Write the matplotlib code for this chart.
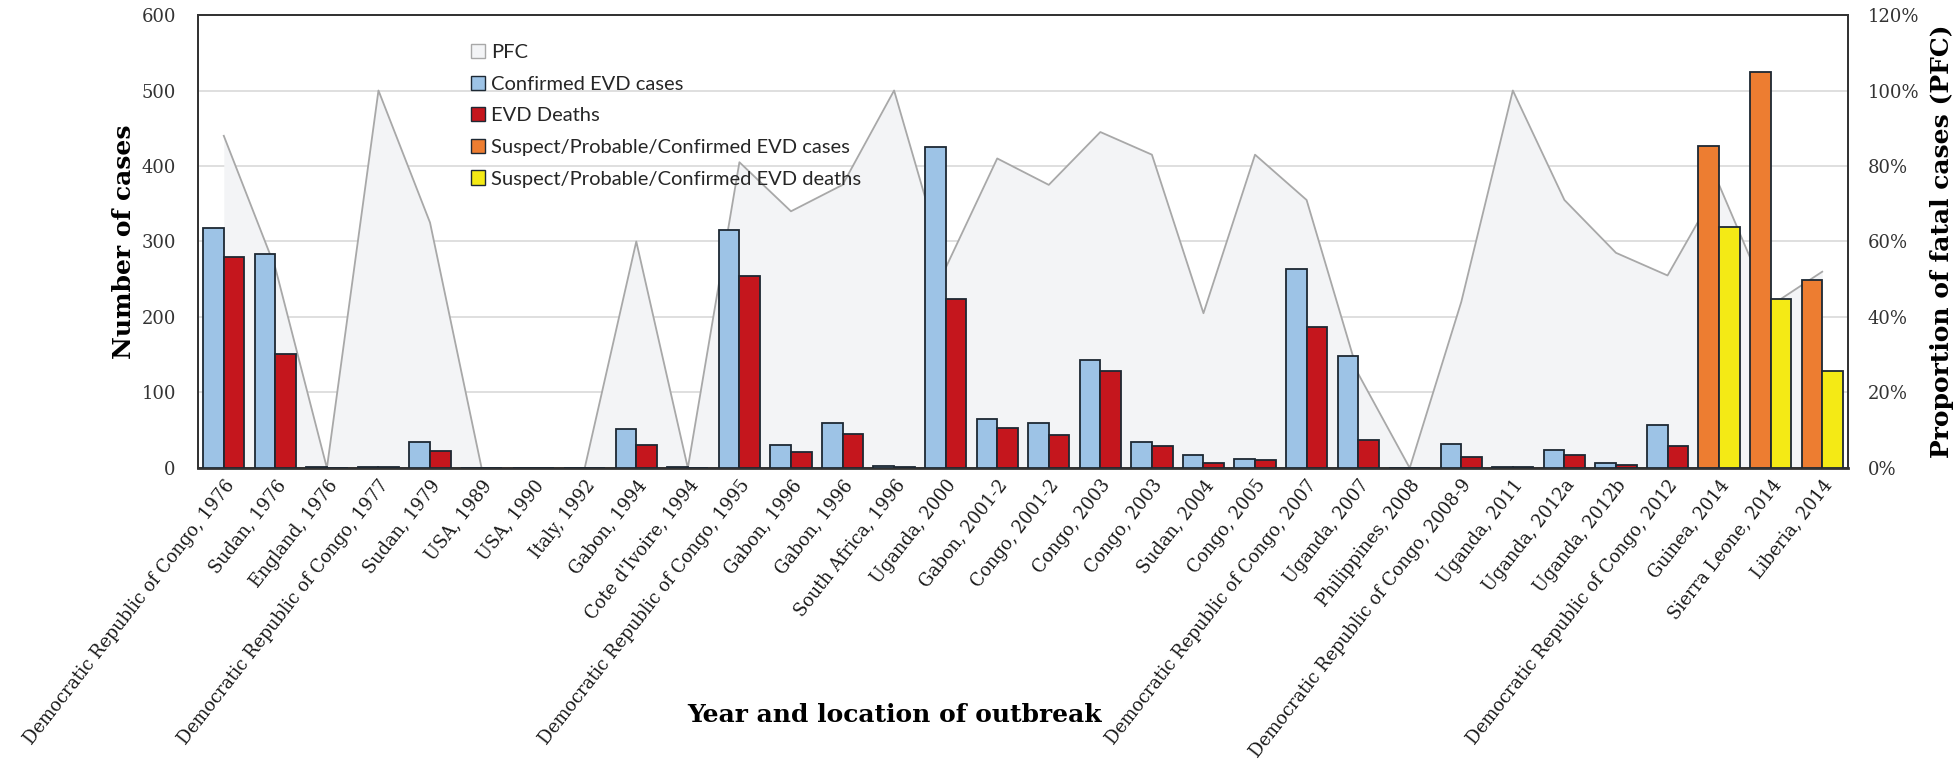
import matplotlib
matplotlib.use("Agg")
import matplotlib.pyplot as plt
from matplotlib.patches import Patch
from matplotlib.ticker import FuncFormatter
import numpy as np

categories = [
    "Democratic Republic of Congo, 1976", "Sudan, 1976", "England, 1976",
    "Democratic Republic of Congo, 1977", "Sudan, 1979", "USA, 1989", "USA, 1990",
    "Italy, 1992", "Gabon, 1994", "Cote d'Ivoire, 1994",
    "Democratic Republic of Congo, 1995", "Gabon, 1996", "Gabon, 1996",
    "South Africa, 1996", "Uganda, 2000", "Gabon, 2001-2", "Congo, 2001-2",
    "Congo, 2003", "Congo, 2003", "Sudan, 2004", "Congo, 2005",
    "Democratic Republic of Congo, 2007", "Uganda, 2007", "Philippines, 2008",
    "Democratic Republic of Congo, 2008-9", "Uganda, 2011", "Uganda, 2012a",
    "Uganda, 2012b", "Democratic Republic of Congo, 2012", "Guinea, 2014",
    "Sierra Leone, 2014", "Liberia, 2014",
]
confirmed_cases = [318, 284, 1, 1, 34, 0, 0, 0, 52, 1, 315, 31, 60, 2, 425, 65, 59,
                   143, 35, 17, 12, 264, 149, 0, 32, 1, 24, 7, 57]
evd_deaths = [280, 151, 0, 1, 22, 0, 0, 0, 31, 0, 254, 21, 45, 1, 224, 53, 44,
              128, 29, 7, 10, 187, 37, 0, 14, 1, 17, 4, 29]
spc_cases = [427, 525, 249]
spc_deaths = [319, 224, 129]
pfc = [88, 53, 0, 100, 65, 0, 0, 0, 60, 0, 81, 68, 75, 100, 53, 82, 75, 89, 83,
       41, 83, 71, 25, 0, 44, 100, 71, 57, 51, 75, 43, 52]

W, H = 1957, 771
fig = plt.figure(figsize=(W / 100, H / 100), dpi=100)
L, R, T, B = 198, 1848, 15, 468
ax = fig.add_axes([L / W, 1 - B / H, (R - L) / W, (B - T) / H])
ax2 = ax.twinx()

serif = "DejaVu Serif"
x = np.arange(len(categories))
n1 = len(confirmed_cases)
bw = 0.4

# PFC area on secondary axis (behind bars)
ax2.set_zorder(1)
ax.set_zorder(2)
ax.patch.set_visible(False)
ax2.set_ylim(0, 120)
ax2.set_yticks(np.arange(0, 121, 20))
ax2.yaxis.set_major_formatter(FuncFormatter(lambda v, p: f"{int(v)}%"))
ax2.grid(axis="y", color="#d9d9d9", lw=1.2, zorder=0)
ax2.set_axisbelow(True)
ax2.fill_between(x, pfc, 0, color="#f3f4f6", lw=0, zorder=1)
ax2.plot(x, pfc, color="#a8a8a8", lw=1.3, zorder=2)

edge = "#1d2833"
ax.bar(x[:n1] - bw / 2, confirmed_cases, bw, color="#9dc3e6", edgecolor=edge, lw=1.3, zorder=3)
ax.bar(x[:n1] + bw / 2, evd_deaths, bw, color="#c5161d", edgecolor=edge, lw=1.3, zorder=3)
ax.bar(x[n1:] - bw / 2, spc_cases, bw, color="#ed7d31", edgecolor=edge, lw=1.3, zorder=3)
ax.bar(x[n1:] + bw / 2, spc_deaths, bw, color="#f4ea15", edgecolor=edge, lw=1.3, zorder=3)

ax.set_xlim(-0.5, len(categories) - 0.5)
ax.set_ylim(0, 600)
ax.set_yticks(np.arange(0, 601, 100))
ax.set_xticks(x)
ax.set_xticklabels(categories, rotation=52, ha="right", rotation_mode="anchor",
                   fontsize=12.8, family=serif, color="#1a1a1a")
ax.tick_params(axis="x", length=0, pad=6)
ax.tick_params(axis="y", length=0, pad=16, labelsize=13, labelcolor="#333333")
for lab in ax.get_yticklabels():
    lab.set_family(serif)
ax2.tick_params(axis="y", length=0, pad=14, labelsize=13, labelcolor="#333333")
for lab in ax2.get_yticklabels():
    lab.set_family(serif)

for a in (ax, ax2):
    for s in a.spines.values():
        s.set_color("#333333")
        s.set_linewidth(1.3)
ax.spines["bottom"].set_linewidth(2)

ax.set_ylabel("Number of cases", family=serif, fontweight="bold", fontsize=18, labelpad=4)
ax2.set_ylabel("Proportion of fatal cases (PFC)", family=serif, fontweight="bold",
               fontsize=18, labelpad=8)
fig.text(895 / W, 1 - 715 / H, "Year and location of outbreak", family=serif,
         fontweight="bold", fontsize=18, ha="center", va="center")

handles = [
    Patch(facecolor="#f3f4f6", edgecolor="#a8a8a8", label="PFC"),
    Patch(facecolor="#9dc3e6", edgecolor=edge, label="Confirmed EVD cases"),
    Patch(facecolor="#c5161d", edgecolor=edge, label="EVD Deaths"),
    Patch(facecolor="#ed7d31", edgecolor=edge, label="Suspect/Probable/Confirmed EVD cases"),
    Patch(facecolor="#f4ea15", edgecolor=edge, label="Suspect/Probable/Confirmed EVD deaths"),
]
leg = ax.legend(handles=handles, loc="upper left", bbox_to_anchor=((463 - L) / (R - L), (B - 36) / (B - T)),
                frameon=False, prop={"family": "Lato", "size": 14.5}, handlelength=0.7,
                handleheight=0.7, handletextpad=0.3, labelspacing=0.72, borderaxespad=0)
for t in leg.get_texts():
    t.set_color("#262626")

fig.savefig("out.png", dpi=100)
